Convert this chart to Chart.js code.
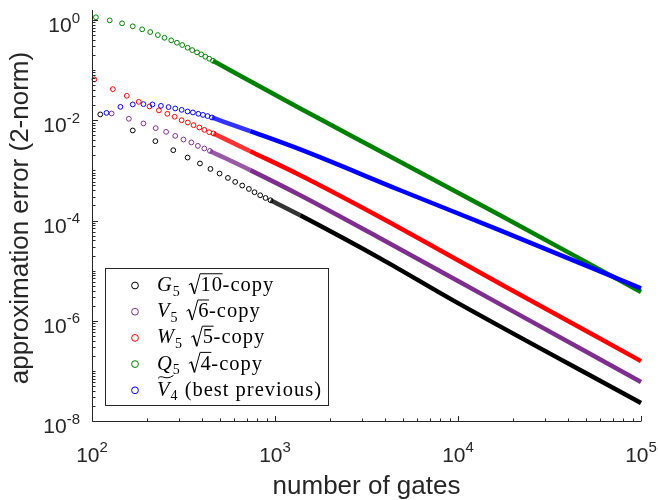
<!DOCTYPE html>
<html>
<head>
<meta charset="utf-8">
<script src="https://cdn.jsdelivr.net/npm/chart.js@4/dist/chart.umd.min.js"></script>
<style>
  html, body { margin: 0; padding: 0; background: #fff; }
  canvas { display: block; }
</style>
</head>
<body>
<canvas id="errChart" width="658" height="500"></canvas>
<script>
// number of gates (x) vs approximation error (y)
// sparse circles at the start, then the dense part where the markers merge into a band
const blackX = [111, 167, 222, 278, 333, 389, 444, 498, 553, 606, 662, 720, 773, 830, 888, 945];
const blackY = [1.37e-2, 6.56e-3, 4.01e-3, 2.65e-3, 1.89e-3, 1.44e-3, 1.12e-3, 9.07e-4, 7.41e-4, 6.17e-4, 5.22e-4, 4.47e-4, 3.84e-4, 3.34e-4, 2.95e-4, 2.66e-4];
const blackBandX = [945, 1373, 3755, 9402, 1e5];
const blackBandY = [2.66e-4, 1.33e-4, 1.84e-5, 2.67e-6, 2.39e-8];

const purpleX = [128, 159, 191, 223, 254, 285, 316, 349, 379, 411, 441];
const purpleY = [1.43e-2, 1.12e-2, 9.05e-3, 7.29e-3, 6.15e-3, 5.11e-3, 4.33e-3, 3.78e-3, 3.23e-3, 2.86e-3, 2.56e-3];
const purpleBandX = [441, 732, 1373, 3755, 15550, 1e5];
const purpleBandY = [2.56e-3, 1.06e-3, 3.34e-4, 4.63e-5, 2.67e-6, 6.29e-8];

const redX = [103, 130, 155, 180, 206, 232, 258, 283, 309, 334, 359, 386, 411, 437, 461];
const redY = [6.85e-2, 4.38e-2, 3.22e-2, 2.44e-2, 1.98e-2, 1.65e-2, 1.41e-2, 1.23e-2, 1.05e-2, 9.47e-3, 8.37e-3, 7.52e-3, 6.74e-3, 6.06e-3, 5.71e-3];
const redBandX = [461, 732, 1373, 3755, 16982, 1e5];
const redBandY = [5.71e-3, 2.53e-3, 8.39e-4, 1.22e-4, 5.75e-6, 1.64e-7];

const greenX = [105, 125, 146, 167, 188, 208, 229, 249, 271, 291, 311, 333, 353, 375, 395, 416, 437, 458];
const greenY = [1.19, 1.03, 0.90, 0.784, 0.683, 0.603, 0.525, 0.464, 0.412, 0.369, 0.332, 0.293, 0.263, 0.237, 0.216, 0.194, 0.177, 0.161];
const greenBandX = [458, 1373, 2575, 16982, 1e5];
const greenBandY = [0.161, 1.80e-2, 5.28e-3, 1.33e-4, 3.93e-6];

const blueX = [120, 143, 167, 191, 214, 238, 262, 285, 309, 333, 356, 381, 404, 428, 452];
const blueY = [1.47e-2, 1.94e-2, 2.17e-2, 2.20e-2, 2.17e-2, 2.03e-2, 1.92e-2, 1.80e-2, 1.69e-2, 1.57e-2, 1.50e-2, 1.41e-2, 1.34e-2, 1.27e-2, 1.19e-2];
const blueBandX = [452, 732, 1373, 4829, 16982, 1e5];
const blueBandY = [1.19e-2, 6.35e-3, 2.74e-3, 4.21e-4, 6.68e-5, 4.64e-6];

const xTickValues = [1e2, 1e3, 1e4, 1e5];
const xTickExp = ['2', '3', '4', '5'];
const yTickValues = [1, 1e-2, 1e-4, 1e-6, 1e-8];
const yTickExp = ['0', '-2', '-4', '-6', '-8'];

const xTitle = 'number of gates';
const yTitle = 'approximation error (2-norm)';

// legend entries: [text, kind]; kinds: it = italic, sub = subscript, sqrt = radical, rm = roman, tilde = italic with wide tilde
const legendNames = [
    [['G', 'it'], ['5', 'sub'], ['10', 'sqrt'], ['-copy', 'rm']],
    [['V', 'it'], ['5', 'sub'], ['6', 'sqrt'], ['-copy', 'rm']],
    [['W', 'it'], ['5', 'sub'], ['5', 'sqrt'], ['-copy', 'rm']],
    [['Q', 'it'], ['5', 'sub'], ['4', 'sqrt'], ['-copy', 'rm']],
    [['V', 'tilde'], ['4', 'sub'], [' (best previous)', 'rm']]
];

const series = [
    { color: '#000000', fade: 'rgba(0,0,0,0.8)', x: blackX, y: blackY, bx: blackBandX, by: blackBandY, chain: 1, order: 5 },
    { color: '#7E2F8E', fade: 'rgba(126,47,142,0.8)', x: purpleX, y: purpleY, bx: purpleBandX, by: purpleBandY, chain: 1, order: 4 },
    { color: '#FF0000', fade: 'rgba(255,0,0,0.8)', x: redX, y: redY, bx: redBandX, by: redBandY, chain: 1, order: 3 },
    { color: '#008000', fade: 'rgba(0,128,0,0.85)', x: greenX, y: greenY, bx: greenBandX, by: greenBandY, chain: 0, order: 2 },
    { color: '#0000FF', fade: 'rgba(0,0,255,0.8)', x: blueX, y: blueY, bx: blueBandX, by: blueBandY, chain: 1, order: 1 }
];

function toPoints(xs, ys) {
    return xs.map((v, i) => ({ x: v, y: ys[i] }));
}

const datasets = [];
series.forEach(s => {
    datasets.push({
        data: toPoints(s.x, s.y),
        showLine: false,
        pointRadius: 2.4,
        pointBorderWidth: 1,
        pointBorderColor: s.color,
        pointBackgroundColor: 'rgba(0,0,0,0)',
        order: s.order,
        clip: 8
    });
    datasets.push({
        data: toPoints(s.bx, s.by),
        showLine: true,
        pointRadius: 0,
        borderWidth: 4.5,
        borderColor: s.color,
        cubicInterpolationMode: 'monotone',
        segment: {
            borderColor: c => c.p0DataIndex < s.chain ? s.fade : undefined
        },
        order: s.order,
        clip: 8
    });
});

const AXIS = '#262626';
const SANS = '"Liberation Sans", Arial, sans-serif';
const SERIF = '"Liberation Serif", "Times New Roman", serif';

function drawPower(ctx, exp, ax, baseline, align) {
    ctx.font = '21px ' + SANS;
    const w1 = ctx.measureText('10').width;
    ctx.font = '15px ' + SANS;
    const w2 = ctx.measureText(exp).width;
    const left = align === 'center' ? ax - (w1 + w2) / 2 : ax - (w1 + w2);
    ctx.textAlign = 'left';
    ctx.textBaseline = 'alphabetic';
    ctx.font = '21px ' + SANS;
    ctx.fillText('10', left, baseline);
    ctx.font = '15px ' + SANS;
    ctx.fillText(exp, left + w1, baseline - 9.5);
}

function drawName(ctx, parts, x, baseline) {
    const f = 20.5;
    let cx = x;
    ctx.textAlign = 'left';
    ctx.textBaseline = 'alphabetic';
    ctx.fillStyle = '#000';
    ctx.strokeStyle = '#000';
    if ('letterSpacing' in ctx) ctx.letterSpacing = '1px';
    parts.forEach(([txt, kind]) => {
        if (kind === 'it' || kind === 'tilde') {
            ctx.font = 'italic ' + f + 'px ' + SERIF;
            const w = ctx.measureText(txt).width;
            ctx.fillText(txt, cx, baseline);
            if (kind === 'tilde') {
                const ty = baseline - 0.92 * f;
                ctx.lineWidth = 1;
                ctx.beginPath();
                ctx.moveTo(cx + 1, ty + 1.5);
                ctx.bezierCurveTo(cx + w * 0.35, ty - 3.5, cx + w * 0.6, ty + 4.5, cx + w + 3, ty - 1.5);
                ctx.stroke();
            }
            cx += w;
        } else if (kind === 'sub') {
            ctx.font = Math.round(f * 0.7) + 'px ' + SERIF;
            ctx.fillText(txt, cx, baseline + 0.22 * f);
            cx += ctx.measureText(txt).width;
        } else if (kind === 'sqrt') {
            cx += 8;
            ctx.font = f + 'px ' + SERIF;
            const w = ctx.measureText(txt).width;
            const top = baseline - 0.84 * f;
            const rx = cx + 0.55 * f;
            ctx.lineWidth = 1;
            ctx.beginPath();
            ctx.moveTo(cx, baseline - 0.3 * f);
            ctx.lineTo(cx + 0.12 * f, baseline - 0.38 * f);
            ctx.stroke();
            ctx.lineWidth = 1.6;
            ctx.beginPath();
            ctx.moveTo(cx + 0.12 * f, baseline - 0.38 * f);
            ctx.lineTo(cx + 0.28 * f, baseline + 0.14 * f);
            ctx.stroke();
            ctx.lineWidth = 1;
            ctx.beginPath();
            ctx.moveTo(cx + 0.28 * f, baseline + 0.14 * f);
            ctx.lineTo(rx, top);
            ctx.lineTo(rx + w, top);
            ctx.stroke();
            ctx.fillText(txt, rx + 0.5, baseline);
            cx = rx + w;
        } else {
            ctx.font = f + 'px ' + SERIF;
            ctx.fillText(txt, cx, baseline);
            cx += ctx.measureText(txt).width;
        }
    });
    if ('letterSpacing' in ctx) ctx.letterSpacing = '0px';
}

const matlabAxes = {
    id: 'matlabAxes',
    afterDraw(chart) {
        const { ctx, chartArea: a } = chart;
        const xs = chart.scales.x, ys = chart.scales.y;
        const x0 = Math.round(a.left) + 0.5;
        const y0 = Math.round(a.bottom) - 0.5;
        ctx.save();

        // axis lines (box off: left and bottom only)
        ctx.strokeStyle = AXIS;
        ctx.lineWidth = 1;
        ctx.beginPath();
        ctx.moveTo(x0, a.top);
        ctx.lineTo(x0, y0);
        ctx.lineTo(a.right, y0);
        ctx.stroke();

        // inward ticks on the log axes
        ctx.beginPath();
        for (let d = 2; d <= 5; d++) {
            for (let k = 1; k <= 9; k++) {
                const v = k * Math.pow(10, d);
                if (v > xs.max * 1.0001) break;
                const px = Math.round(xs.getPixelForValue(v)) + 0.5;
                const len = k === 1 ? 5.5 : 3;
                ctx.moveTo(px, y0);
                ctx.lineTo(px, y0 - len);
            }
        }
        for (let d = -8; d <= 0; d++) {
            for (let k = 1; k <= 9; k++) {
                const v = k * Math.pow(10, d);
                if (v > ys.max) break;
                const py = Math.round(ys.getPixelForValue(v)) - 0.5;
                const len = (k === 1 && d % 2 === 0) ? 5.5 : 3;
                ctx.moveTo(x0, py);
                ctx.lineTo(x0 + len, py);
            }
        }
        ctx.stroke();

        // tick labels with superscripts
        ctx.fillStyle = AXIS;
        xTickValues.forEach((v, i) => {
            drawPower(ctx, xTickExp[i], xs.getPixelForValue(v), 461.5, 'center');
        });
        yTickValues.forEach((v, i) => {
            drawPower(ctx, yTickExp[i], 80, ys.getPixelForValue(v) + 11, 'right');
        });

        // axis titles
        ctx.font = '26px ' + SANS;
        ctx.textAlign = 'center';
        ctx.textBaseline = 'alphabetic';
        ctx.fillText(xTitle, (a.left + a.right) / 2, 494);
        ctx.save();
        ctx.translate(27.5, (a.top + a.bottom) / 2 + 2);
        ctx.rotate(-Math.PI / 2);
        ctx.fillText(yTitle, 0, 0);
        ctx.restore();

        // legend box
        const lx = 105.5, ly = 268.5, lw = 223, lh = 137;
        ctx.fillStyle = '#fff';
        ctx.fillRect(lx, ly, lw, lh);
        ctx.strokeStyle = AXIS;
        ctx.lineWidth = 1;
        ctx.strokeRect(lx, ly, lw, lh);
        legendNames.forEach((parts, i) => {
            const cy = 285.5 + i * 26.2;
            ctx.strokeStyle = series[i].color;
            ctx.lineWidth = 1;
            ctx.beginPath();
            ctx.arc(135, cy, 3.4, 0, Math.PI * 2);
            ctx.stroke();
            drawName(ctx, parts, 157, cy + 5.5);
        });
        ctx.restore();
    }
};

new Chart(document.getElementById('errChart').getContext('2d'), {
    type: 'scatter',
    data: { datasets: datasets },
    options: {
        responsive: false,
        animation: false,
        events: [],
        layout: { padding: { left: 92, right: 17, top: 10, bottom: 78 } },
        scales: {
            x: { type: 'logarithmic', min: 100, max: 1e5, display: false },
            y: { type: 'logarithmic', min: 1e-8, max: 1.66, display: false }
        },
        plugins: {
            legend: { display: false },
            tooltip: { enabled: false }
        }
    },
    plugins: [matlabAxes]
});
</script>
</body>
</html>
